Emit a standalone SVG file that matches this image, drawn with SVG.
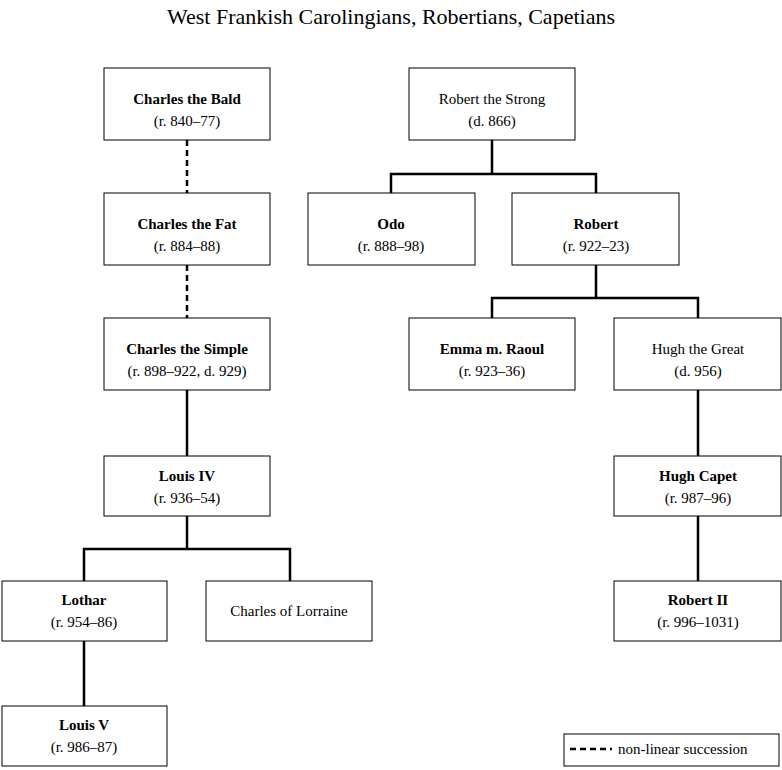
<svg xmlns="http://www.w3.org/2000/svg" width="782" height="770" viewBox="0 0 782 770">
<style>
rect.n{fill:#fff;stroke:#000;stroke-width:1}
text{font-family:"Liberation Serif",serif;font-size:15px;text-anchor:middle;fill:#000}
.b{font-weight:bold}
.c line{stroke:#000;stroke-width:2.5}
.d{stroke-dasharray:6,4}
</style>
<rect width="782" height="770" fill="#fff"/>
<text x="391" y="24" style="font-size:22px">West Frankish Carolingians, Robertians, Capetians</text>
<g class="c" id="connectors">
<line class="d" x1="187" y1="140" x2="187" y2="193"/>
<line class="d" x1="187" y1="265" x2="187" y2="318"/>
<line x1="187" y1="390" x2="187" y2="456"/>
<line x1="187" y1="516" x2="187" y2="549"/>
<line x1="83" y1="549" x2="291" y2="549"/>
<line x1="84" y1="548" x2="84" y2="581"/>
<line x1="290" y1="548" x2="290" y2="581"/>
<line x1="84" y1="641" x2="84" y2="706"/>
<line x1="492" y1="140" x2="492" y2="174"/>
<line x1="390" y1="174" x2="597" y2="174"/>
<line x1="391" y1="173" x2="391" y2="193"/>
<line x1="596" y1="173" x2="596" y2="193"/>
<line x1="596" y1="265" x2="596" y2="298"/>
<line x1="491" y1="298" x2="699" y2="298"/>
<line x1="492" y1="297" x2="492" y2="318"/>
<line x1="698" y1="297" x2="698" y2="318"/>
<line x1="698" y1="390" x2="698" y2="456"/>
<line x1="698" y1="516" x2="698" y2="581"/>
</g>
<g id="charles_bald"><rect class="n" x="104" y="68" width="166" height="72"/><text class="b" x="187" y="104">Charles the Bald</text><text x="187" y="126">(r. 840–77)</text></g>
<g id="charles_fat"><rect class="n" x="104" y="193" width="166" height="72"/><text class="b" x="187" y="229">Charles the Fat</text><text x="187" y="251">(r. 884–88)</text></g>
<g id="charles_simple"><rect class="n" x="104" y="318" width="166" height="72"/><text class="b" x="187" y="354">Charles the Simple</text><text x="187" y="376">(r. 898–922, d. 929)</text></g>
<g id="louis4"><rect class="n" x="104" y="456" width="166" height="60"/><text class="b" x="187" y="481">Louis IV</text><text x="187" y="503">(r. 936–54)</text></g>
<g id="lothar"><rect class="n" x="2" y="581" width="165" height="60"/><text class="b" x="84" y="605">Lothar</text><text x="84" y="627">(r. 954–86)</text></g>
<g id="charles_lorraine"><rect class="n" x="206" y="581" width="166" height="60"/><text x="289" y="616">Charles of Lorraine</text></g>
<g id="louis5"><rect class="n" x="2" y="706" width="165" height="60"/><text class="b" x="84" y="730">Louis V</text><text x="84" y="752">(r. 986–87)</text></g>
<g id="robert_strong"><rect class="n" x="409" y="68" width="166" height="72"/><text x="492" y="104">Robert the Strong</text><text x="492" y="126">(d. 866)</text></g>
<g id="odo"><rect class="n" x="308" y="193" width="167" height="72"/><text class="b" x="391" y="229">Odo</text><text x="391" y="251">(r. 888–98)</text></g>
<g id="robert"><rect class="n" x="512" y="193" width="167" height="72"/><text class="b" x="596" y="229">Robert</text><text x="596" y="251">(r. 922–23)</text></g>
<g id="emma"><rect class="n" x="409" y="318" width="166" height="72"/><text class="b" x="492" y="354">Emma m. Raoul</text><text x="492" y="376">(r. 923–36)</text></g>
<g id="hugh_great"><rect class="n" x="614" y="318" width="167" height="72"/><text x="698" y="354">Hugh the Great</text><text x="698" y="376">(d. 956)</text></g>
<g id="hugh_capet"><rect class="n" x="614" y="456" width="167" height="60"/><text class="b" x="698" y="481">Hugh Capet</text><text x="698" y="503">(r. 987–96)</text></g>
<g id="robert2"><rect class="n" x="614" y="581" width="167" height="60"/><text class="b" x="698" y="605">Robert II</text><text x="698" y="627">(r. 996–1031)</text></g>
<g id="legend"><rect class="n" x="564" y="734" width="215" height="32"/><line x1="570" y1="749" x2="612" y2="749" stroke="#000" stroke-width="2.5" stroke-dasharray="6,4"/><text x="618" y="754" style="text-anchor:start">non-linear succession</text></g>
</svg>
